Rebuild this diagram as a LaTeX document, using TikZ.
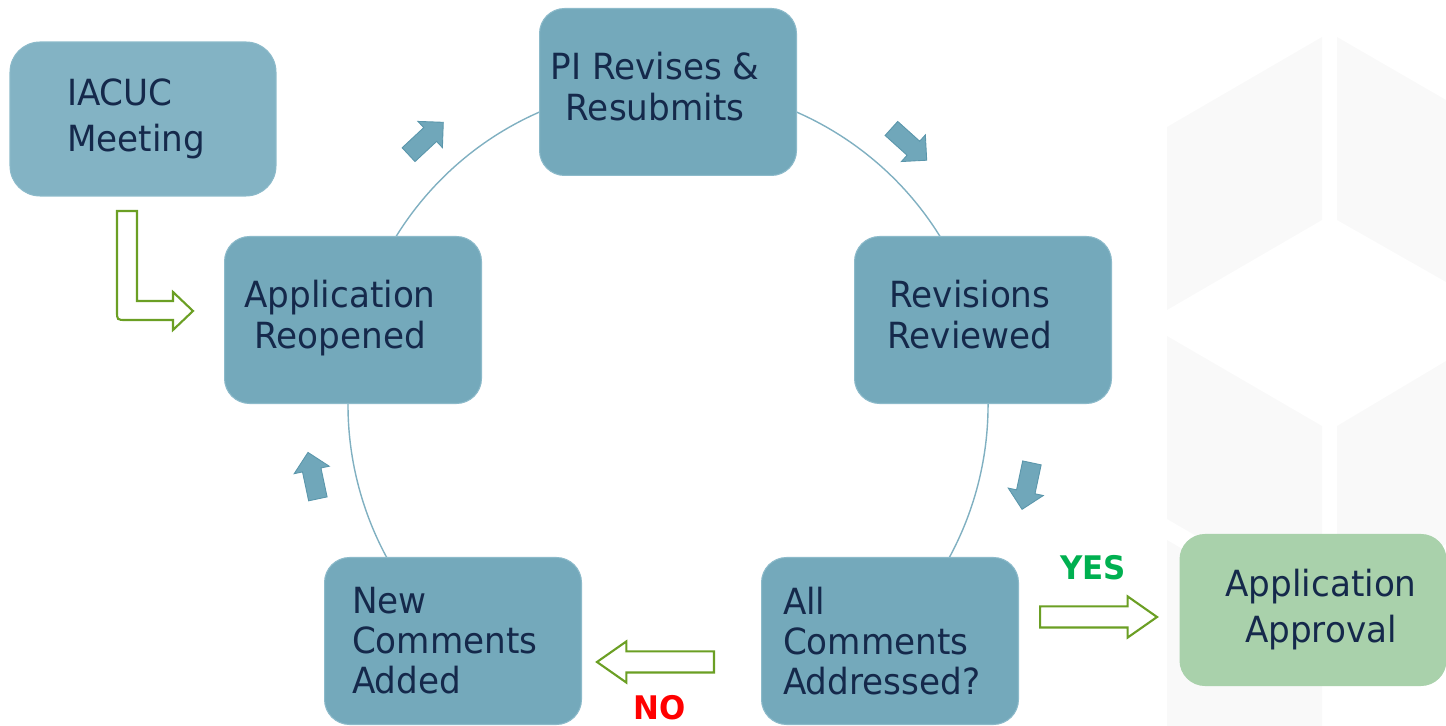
\documentclass[tikz,border=0pt]{standalone}
\usepackage{fontspec}
\setmainfont{DejaVu Sans}[FakeStretch=0.95]
\usetikzlibrary{shapes.arrows,calc}
\definecolor{boxblue}{HTML}{74A9BB}
\definecolor{boxpale}{HTML}{83B3C4}
\definecolor{boxedge}{HTML}{8CBACA}
\definecolor{inkblue}{HTML}{15294B}
\definecolor{ringblue}{HTML}{80B0C1}
\definecolor{turnfill}{HTML}{70A7BA}
\definecolor{turnedge}{HTML}{5A96AB}
\definecolor{okgreen}{HTML}{A9D1AB}
\definecolor{leafgreen}{HTML}{6B9F24}
\definecolor{yesgreen}{HTML}{00B050}
\definecolor{hexgray}{HTML}{F9F9F9}
% centred lines, nudged sideways inside their box
\newcommand\offcentre[2]{\hspace*{#1}\begin{tabular}{@{}c@{}}#2\end{tabular}}
\tikzset{
  stage/.style={rounded corners=0.5cm, fill=boxblue, draw=boxedge, line width=0.6pt,
    minimum width=5.14cm, minimum height=3.34cm, text=inkblue,
    font=\fontsize{20.5}{22.8}\selectfont, align=left},
  wide/.style={font=\fontsize{20.5}{26.5}\selectfont},
  turn/.style={single arrow, fill=turnfill, draw=turnedge, line width=0.5pt, inner sep=0pt,
    text height=0.18cm, text depth=0.18cm, minimum height=0.95cm,
    single arrow head extend=0.17cm},
  hollow/.style={single arrow, fill=white, draw=leafgreen, line width=1.2pt, inner sep=0pt,
    text height=0.19cm, text depth=0.19cm, minimum height=2.34cm,
    single arrow head extend=0.2cm, single arrow tip angle=70},
  verdict/.style={font=\fontsize{18.5}{20}\selectfont\bfseries, inner sep=0pt}
}
\begin{document}
\begin{tikzpicture}[x=0.02cm, y=0.02cm]
  \useasboundingbox (0,0) rectangle (1446,726);
  % faint cube faces in the background
  \fill[hexgray] (1167,599) -- (1322,689) -- (1322,506) -- (1167,416) -- cycle;
  \fill[hexgray] (1337,689) -- (1446,626) -- (1446,444) -- (1337,506) -- cycle;
  \fill[hexgray] (1167,390) -- (1322,300) -- (1322,117) -- (1167,207) -- cycle;
  \fill[hexgray] (1337,300) -- (1446,365) -- (1446,182) -- (1337,117) -- cycle;
  \fill[hexgray] (1167,186) -- (1322,96) -- (1322,0) -- (1167,0) -- cycle;

  % ring behind the stages
  \coordinate (hub) at (668,321);
  \draw[ringblue, line width=0.8pt] ($(hub)+(-72:320)$) arc[start angle=-72, end angle=252, radius=6.4cm];

  \node[stage, wide, fill=boxpale, minimum width=5.32cm, minimum height=3.08cm,
    rounded corners=0.6cm, text width=3.04cm]
    (meeting) at (143,607) {IACUC\\Meeting};
  \node[stage] (revise) at (668,634) {\offcentre{-0.52cm}{PI Revises \&\\Resubmits}};
  \node[stage] (reviewed) at (983,406) {\offcentre{-0.52cm}{Revisions\\Reviewed}};
  \node[stage, text width=4.28cm] (addressed) at (890,85) {All\\Comments\\Addressed?};
  \node[stage, text width=4.04cm] (added) at (453,85) {New\\Comments\\Added};
  \node[stage] (reopened) at (353,406) {\offcentre{-0.52cm}{Application\\Reopened}};
  \node[stage, wide, fill=okgreen, draw=okgreen, minimum width=5.32cm, minimum height=3.02cm]
    (approval) at (1313,116) {\offcentre{0.32cm}{Application\\Approval}};

  % small arrows round the ring
  \foreach \ang/\rad [count=\i] in {133/360,48/355,-12/368,192/362}
    \node[turn, rotate=\ang-90] (turn\i) at ($(hub)+(\ang:\rad)$) {};

  % meeting feeds into the reopened application
  \draw[leafgreen, line width=1.2pt, fill=white, line join=miter]
    (117,515) -- (137,515) -- (137,425) -- (173,425) -- (173,434) -- (193,415)
    -- (173,396) -- (173,406) -- (126,406) .. controls (117,406) .. (117,415) -- cycle;

  \node[hollow] (yesarrow) at (1091,109) {};
  \node[hollow, rotate=180] (noarrow) at (663,64) {};
  \node[verdict, text=yesgreen] (yes) at (1093,158) {YES};
  \node[verdict, text=red] (no) at (660,18) {NO};
\end{tikzpicture}
\end{document}
